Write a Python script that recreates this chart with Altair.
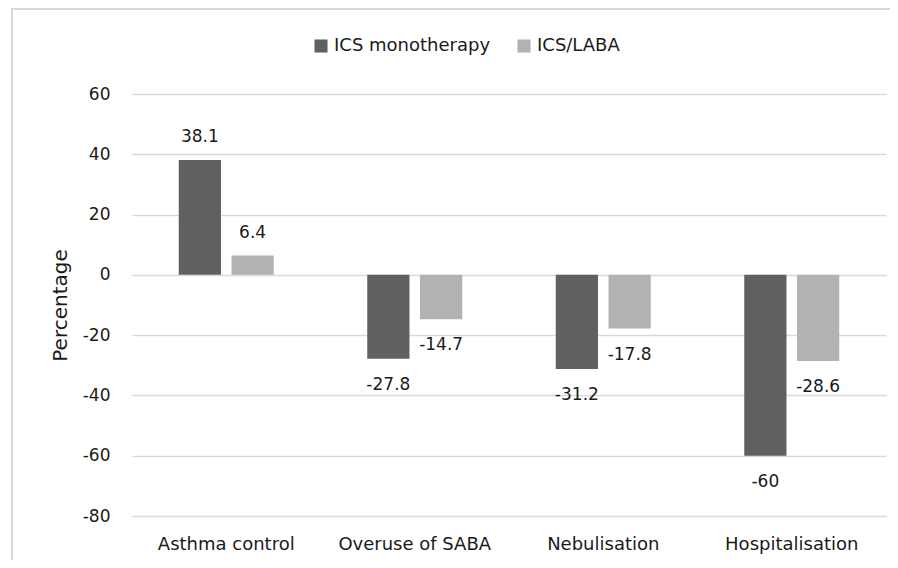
import altair as alt
import pandas as pd

categories = ["Asthma control", "Overuse of SABA", "Nebulisation", "Hospitalisation"]
series_names = ["ICS monotherapy", "ICS/LABA"]
ics_mono = [38.1, -27.8, -31.2, -60]
ics_laba = [6.4, -14.7, -17.8, -28.6]
y_ticks = [-80, -60, -40, -20, 0, 20, 40, 60]

rows = []
for c, a, b in zip(categories, ics_mono, ics_laba):
    rows.append({"cat": c, "series": series_names[0], "value": a, "label": f"{a:g}"})
    rows.append({"cat": c, "series": series_names[1], "value": b, "label": f"{b:g}"})
df = pd.DataFrame(rows)

FONT = "DejaVu Sans"
W, H = 754, 422

x = alt.X("cat:N", sort=categories, title=None,
          scale=alt.Scale(paddingInner=0.496, paddingOuter=0.248),
          axis=alt.Axis(labelAngle=0, ticks=False, domain=False, grid=False, labelPadding=19,
                        labelFontSize=18, labelFont=FONT, labelColor="#1a1a1a"))
xo = alt.XOffset("series:N", sort=series_names,
                 scale=alt.Scale(paddingInner=0.2, paddingOuter=0))
y = alt.Y("value:Q", title="Percentage",
          scale=alt.Scale(domain=[-80, 60], nice=False),
          axis=alt.Axis(values=y_ticks, ticks=False, domain=False, labelPadding=22,
                        labelFontSize=17, labelFont=FONT, labelColor="#1a1a1a",
                        labelExpr="datum.value + ''",
                        titleFontSize=20, titleFont=FONT, titleFontWeight="normal",
                        titleColor="#1a1a1a", titlePadding=12,
                        gridColor="#d9d9d9", gridWidth=1.5))

color = alt.Color("series:N", sort=series_names,
                  scale=alt.Scale(domain=series_names, range=["#606060", "#b2b2b2"]),
                  legend=alt.Legend(title=None, orient="none", direction="horizontal",
                                    legendX=180, legendY=-57,
                                    symbolType="square", symbolSize=170,
                                    symbolStrokeWidth=0, labelFontSize=18,
                                    labelFont=FONT, labelColor="#1a1a1a",
                                    columnPadding=24, labelOffset=4))

base = alt.Chart(df)

bars = base.mark_bar().encode(x=x, xOffset=xo, y=y, color=color)

pos = base.transform_filter("datum.value >= 0").mark_text(
    dy=-23, fontSize=17, font=FONT, color="#1a1a1a", baseline="middle"
).encode(x=x, xOffset=xo, y=y, text="label:N")

neg = base.transform_filter("datum.value < 0").mark_text(
    dy=26, fontSize=17, font=FONT, color="#1a1a1a", baseline="middle"
).encode(x=x, xOffset=xo, y=y, text="label:N")

frame_df = pd.DataFrame({"k": [0]})
left_edge = alt.Chart(frame_df).mark_tick(
    color="#d9d9d9", orient="vertical", size=H + 130, thickness=2, opacity=1
).encode(x=alt.value(-120), y=alt.value(H / 2 - 21))
top_edge = alt.Chart(frame_df).mark_rect(color="#d9d9d9", strokeWidth=0).encode(
    x=alt.value(-121), x2=alt.value(W + 4), y=alt.value(-86), y2=alt.value(-84))

chart = alt.layer(left_edge, top_edge, bars, pos, neg).properties(
    width=W, height=H,
    autosize=alt.AutoSizeParams(type="none"),
    padding={"left": 124, "top": 86, "right": 4, "bottom": 44},
    view=alt.ViewBackground(stroke="transparent", strokeWidth=0),
).configure(background="white")

chart.save("out.html", embed_options={"renderer": "svg", "actions": False})
